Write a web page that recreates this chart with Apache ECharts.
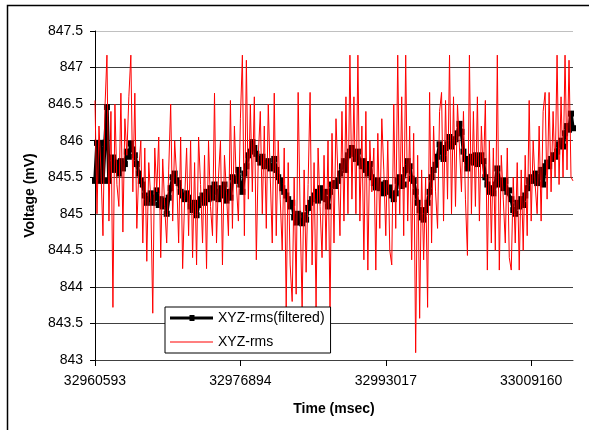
<!DOCTYPE html>
<html>
<head>
<meta charset="utf-8">
<script src="https://cdn.jsdelivr.net/npm/echarts@6/dist/echarts.min.js"></script>
<style>
html,body{margin:0;padding:0;background:#fff;}
#c{width:589px;height:430px;}
</style>
</head>
<body>
<div id="c"></div>
<script>
// Tick labels (time in msec) shown every 73 samples
const tickLabels = ['32960593', '32976894', '32993017', '33009160'];
const tickStep = 73;

// XYZ-rms (filtered)
const filtered = [
845.45,845.97,845.45,845.97,845.45,845.97,846.46,845.45,845.65,845.77,
845.6,845.7,845.55,845.72,845.62,845.68,845.85,845.78,845.96,845.88,
845.8,845.68,845.55,845.45,845.4,845.25,845.15,845.2,845.28,845.15,
845.22,845.32,845.12,845.2,845.1,845.18,845.0,845.22,845.35,845.5,
845.55,845.45,845.42,845.3,845.25,845.2,845.28,845.22,845.1,845.05,
845.15,844.98,845.12,845.2,845.25,845.15,845.3,845.2,845.35,845.22,
845.4,845.3,845.2,845.35,845.25,845.4,845.18,845.3,845.22,845.5,
845.48,845.45,845.6,845.4,845.3,845.55,845.65,845.8,845.85,845.98,
845.9,845.82,845.75,845.7,845.78,845.65,845.7,845.72,845.62,845.65,
845.75,845.6,845.5,845.45,845.35,845.3,845.25,845.2,845.1,845.15,
844.95,844.88,845.0,844.9,844.87,844.98,844.92,845.08,845.15,845.2,
845.25,845.3,845.18,845.35,845.22,845.3,845.2,845.1,845.3,845.4,
845.42,845.38,845.45,845.55,845.65,845.72,845.6,845.8,845.85,845.9,
845.82,845.75,845.85,845.7,845.65,845.72,845.6,845.55,845.68,845.5,
845.42,845.36,845.45,845.35,845.4,845.28,845.42,845.3,845.36,845.25,
845.2,845.28,845.45,845.5,845.38,845.4,845.6,845.72,845.65,845.48,
845.45,845.3,845.15,845.05,844.95,844.92,845.05,845.15,845.3,845.5,
845.6,845.67,845.78,845.95,845.85,845.75,845.9,845.95,846.05,845.92,
845.98,846.02,846.1,846.23,846.12,845.85,845.75,845.62,845.72,845.78,
845.7,845.8,845.68,845.75,845.8,845.72,845.5,845.4,845.3,845.35,
845.28,845.4,845.62,845.45,845.4,845.35,845.45,845.3,845.32,845.2,
845.05,845.0,845.15,845.1,845.2,845.12,845.25,845.35,845.45,845.5,
845.45,845.55,845.42,845.5,845.6,845.4,845.65,845.7,845.65,845.75,
845.8,845.78,845.85,845.95,846.0,845.92,846.1,846.2,846.15,846.37,
846.17
];

// XYZ-rms (raw)
const raw = [
846.55,845.0,846.2,845.6,844.7,846.45,847.17,844.9,846.4,843.72,
846.5,845.4,845.1,846.65,844.75,846.3,845.8,846.6,847.17,845.3,
846.65,844.8,845.6,846.0,844.6,845.9,844.35,845.7,845.2,843.64,
845.9,845.3,846.05,844.4,845.75,845.1,844.6,845.6,846.5,844.9,
846.0,845.5,844.6,846.05,844.25,845.2,845.9,844.7,846.0,844.4,
845.7,844.3,846.05,845.4,844.6,845.8,844.25,846.0,845.1,844.7,
846.65,844.6,845.5,846.0,844.3,845.8,845.3,844.7,846.55,844.8,
846.2,845.4,844.9,846.3,847.17,844.7,847.1,845.2,846.5,845.3,
846.6,844.37,845.8,846.4,845.0,846.2,844.8,846.5,845.5,844.6,
846.65,844.7,846.0,845.2,844.5,845.9,843.72,845.7,844.3,843.8,
845.5,843.9,846.66,845.0,843.72,845.6,844.2,845.4,846.66,844.3,
845.7,843.72,845.9,845.1,844.4,845.8,844.5,846.0,843.6,846.1,
844.6,846.3,845.5,844.7,846.4,844.9,846.6,845.0,847.17,845.2,
846.6,845.0,847.17,844.9,846.2,844.37,846.4,844.23,846.0,845.3,
845.9,844.23,846.1,844.8,846.3,845.6,844.7,846.0,844.5,844.3,
846.5,844.8,847.17,845.0,846.6,844.7,847.17,844.9,846.2,844.37,
846.1,843.1,845.8,843.57,845.6,844.37,845.5,843.72,846.66,844.6,
846.2,845.3,844.8,846.4,846.66,844.9,846.55,845.2,847.17,845.0,
846.6,845.1,846.5,845.9,845.3,846.4,845.2,844.43,847.17,845.0,
846.4,845.1,846.6,844.9,846.2,845.5,846.55,844.23,846.0,844.6,
845.9,844.5,847.17,844.23,845.8,845.2,844.6,845.9,844.4,844.23,
845.5,844.6,845.7,844.23,845.6,844.5,845.8,844.7,846.55,844.9,
846.0,845.4,845.0,846.2,844.9,846.4,846.66,845.2,846.66,845.3,
846.4,845.5,847.17,845.4,846.6,845.5,847.17,845.6,847.1,845.5,
845.45
];

const categories = filtered.map((_, i) => String(i));
const font = 'Liberation Sans, Arial, sans-serif';

const chart = echarts.init(document.getElementById('c'), null, {renderer: 'canvas'});
chart.setOption({
  animation: false,
  backgroundColor: '#fff',
  textStyle: {fontFamily: font},
  graphic: [{
    type: 'rect',
    shape: {x: 7.5, y: 5.5, width: 700, height: 600},
    style: {fill: 'none', stroke: '#000', lineWidth: 1.5},
    z: -1
  }],
  grid: {left: 95, right: 16, top: 31, bottom: 70, containLabel: false},
  legend: {
    orient: 'vertical',
    left: 165, top: 307,
    width: 164,
    padding: [4, 6, 4, 5],
    itemWidth: 43, itemHeight: 14, itemGap: 10,
    symbolKeepAspect: true,
    backgroundColor: '#fff',
    borderColor: '#000', borderWidth: 1,
    textStyle: {fontFamily: font, fontSize: 14, color: '#000'},
    data: [
      {name: 'XYZ-rms(filtered)', icon: 'path://M0,1.5h43v3h-43z M19.5,0h5v6h-5z'},
      {name: 'XYZ-rms', icon: 'path://M0,0h43v1h-43z'}
    ],
    z: 10
  },
  xAxis: {
    type: 'category',
    data: categories,
    boundaryGap: false,
    name: 'Time (msec)',
    nameLocation: 'middle',
    nameGap: 42,
    nameTextStyle: {fontFamily: font, fontSize: 14, fontWeight: 'bold', color: '#000'},
    axisLine: {lineStyle: {color: '#404040', width: 1}},
    axisTick: {show: true, interval: tickStep - 1, length: 6, lineStyle: {color: '#000'}},
    axisLabel: {
      interval: tickStep - 1, margin: 14,
      fontFamily: font, fontSize: 14, color: '#000',
      formatter: (v, idx) => (idx % tickStep === 0 ? (tickLabels[idx / tickStep] || '') : '')
    },
    splitLine: {show: false}
  },
  yAxis: {
    type: 'value',
    min: 843, max: 847.5, interval: 0.5,
    name: 'Voltage (mV)',
    nameLocation: 'middle',
    nameGap: 58,
    nameRotate: 90,
    nameTextStyle: {fontFamily: font, fontSize: 14, fontWeight: 'bold', color: '#000'},
    axisLine: {show: true, lineStyle: {color: '#000', width: 1}},
    axisTick: {show: true, length: 5, lineStyle: {color: '#000'}},
    axisLabel: {margin: 12, fontFamily: font, fontSize: 14, color: '#000'},
    splitLine: {
      show: true,
      lineStyle: {color: ['#404040','#404040','#404040','#404040','#404040','#404040','#404040','#404040','#404040','#c0c0c0'], width: 1}
    }
  },
  series: [
    {
      name: 'XYZ-rms(filtered)',
      type: 'line',
      data: filtered,
      symbol: 'rect',
      symbolSize: 6,
      showAllSymbol: true,
      lineStyle: {color: '#000', width: 3.5},
      itemStyle: {color: '#000'},
      z: 2
    },
    {
      name: 'XYZ-rms',
      type: 'line',
      data: raw,
      symbol: 'none',
      lineStyle: {color: '#ff0000', width: 1},
      itemStyle: {color: '#ff0000'},
      z: 3
    }
  ]
});
</script>
</body>
</html>
